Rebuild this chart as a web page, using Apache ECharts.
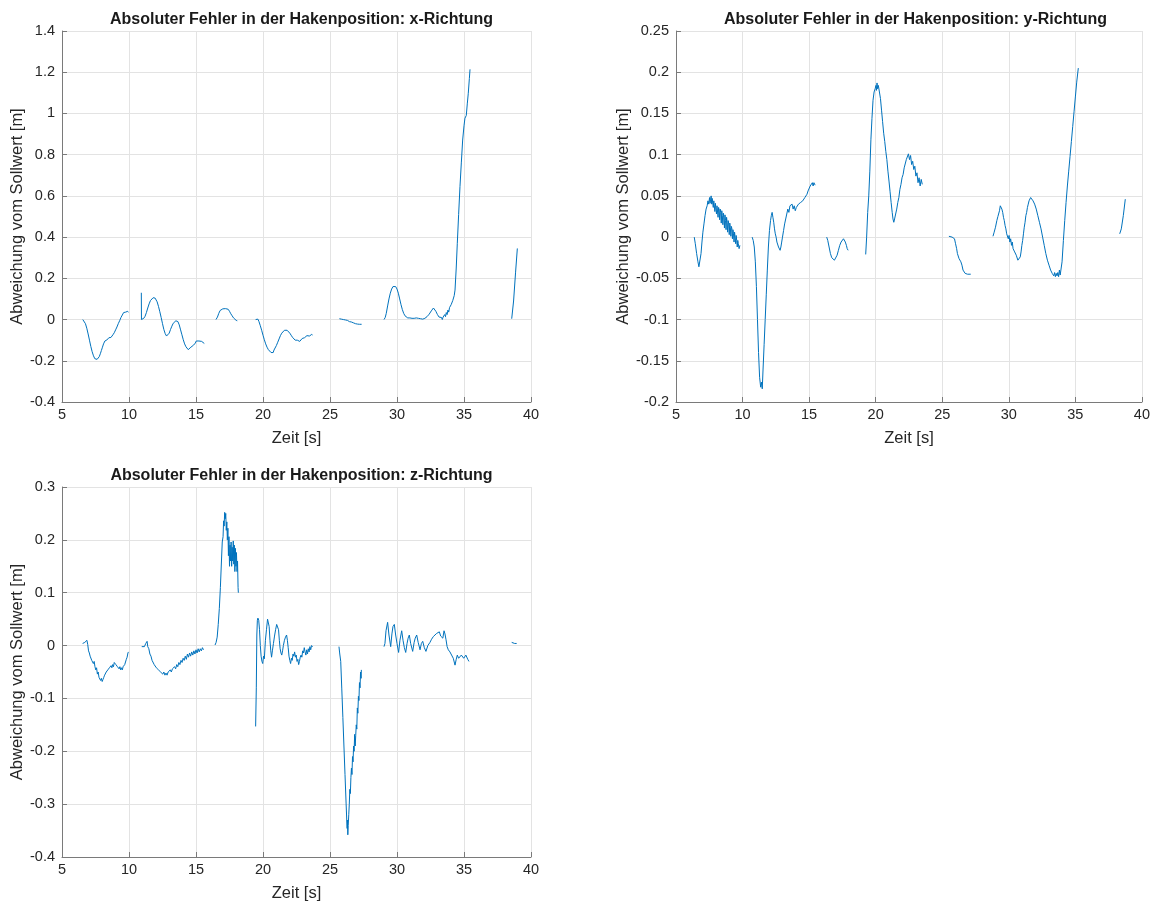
<!DOCTYPE html>
<html>
<head>
<meta charset="utf-8">
<script src="https://cdn.jsdelivr.net/npm/echarts@6/dist/echarts.min.js"></script>
<style>
  html, body { margin: 0; padding: 0; background: #fff; }
  #chart { width: 1153px; height: 904px; }
</style>
</head>
<body>
<div id="chart"></div>
<script>
// Hook position error, recorded in segments [time s, deviation m]
const titles = [
  'Absoluter Fehler in der Hakenposition: x-Richtung',
  'Absoluter Fehler in der Hakenposition: y-Richtung',
  'Absoluter Fehler in der Hakenposition: z-Richtung'
];
const xAxisName = 'Zeit [s]';
const yAxisName = 'Abweichung vom Sollwert [m]';

// axis ranges: [min, max, step]
const timeRange = [5, 40, 5];
const rangeX = [-0.4, 1.4, 0.2];
const rangeY = [-0.2, 0.25, 0.05];
const rangeZ = [-0.4, 0.3, 0.1];

const errX = [
  [[6.55,0.000],[6.65,-0.004],[6.75,-0.020],[6.85,-0.042],[6.95,-0.070],[7.05,-0.100],[7.15,-0.130],[7.25,-0.156],[7.35,-0.176],[7.45,-0.190],[7.55,-0.198],[7.62,-0.193],[7.70,-0.190],[7.78,-0.180],[7.86,-0.166],[7.94,-0.150],[8.02,-0.134],[8.10,-0.118],[8.15,-0.112],[8.20,-0.104],[8.25,-0.100],[8.30,-0.096],[8.35,-0.099],[8.40,-0.092],[8.45,-0.094],[8.50,-0.088],[8.55,-0.091],[8.60,-0.085],[8.65,-0.087],[8.70,-0.080],[8.75,-0.082],[8.80,-0.074],[8.85,-0.072],[8.90,-0.064],[8.95,-0.060],[9.00,-0.050],[9.05,-0.047],[9.10,-0.036],[9.15,-0.032],[9.20,-0.020],[9.25,-0.018],[9.30,-0.006],[9.35,-0.002],[9.40,0.010],[9.45,0.012],[9.50,0.022],[9.55,0.024],[9.60,0.034],[9.65,0.032],[9.70,0.041],[9.75,0.036],[9.80,0.043],[9.85,0.038],[9.90,0.040],[9.95,0.035]],
  [[10.92,0.130],[10.93,0.000],[11.00,0.002],[11.10,0.006],[11.20,0.016],[11.30,0.034],[11.40,0.056],[11.50,0.076],[11.60,0.092],[11.70,0.100],[11.80,0.106],[11.90,0.108],[11.95,0.104],[12.00,0.100],[12.10,0.086],[12.20,0.064],[12.30,0.038],[12.40,0.010],[12.50,-0.020],[12.60,-0.048],[12.70,-0.068],[12.80,-0.080],[12.90,-0.078],[13.00,-0.066],[13.10,-0.048],[13.20,-0.032],[13.30,-0.018],[13.40,-0.010],[13.50,-0.006],[13.58,-0.004],[13.65,-0.010],[13.75,-0.026],[13.85,-0.050],[13.95,-0.074],[14.05,-0.098],[14.15,-0.118],[14.25,-0.132],[14.35,-0.140],[14.42,-0.146],[14.48,-0.140],[14.55,-0.146],[14.62,-0.134],[14.68,-0.138],[14.75,-0.126],[14.82,-0.124],[14.88,-0.116],[14.95,-0.114],[15.02,-0.104],[15.08,-0.108],[15.15,-0.100],[15.22,-0.104],[15.28,-0.100],[15.35,-0.108],[15.42,-0.106],[15.48,-0.114],[15.55,-0.110],[15.62,-0.116]],
  [[16.49,0.000],[16.60,0.012],[16.70,0.030],[16.80,0.044],[16.90,0.051],[17.00,0.052],[17.10,0.052],[17.20,0.053],[17.30,0.052],[17.40,0.050],[17.50,0.040],[17.60,0.028],[17.70,0.018],[17.80,0.008],[17.90,0.002],[18.00,-0.004],[18.08,-0.006]],
  [[19.45,0.000],[19.50,0.004],[19.55,0.006],[19.62,0.002],[19.70,-0.010],[19.80,-0.030],[19.90,-0.052],[20.00,-0.076],[20.10,-0.098],[20.20,-0.118],[20.30,-0.134],[20.40,-0.146],[20.50,-0.154],[20.60,-0.160],[20.70,-0.156],[20.76,-0.160],[20.82,-0.148],[20.90,-0.142],[21.00,-0.126],[21.10,-0.110],[21.20,-0.094],[21.30,-0.078],[21.40,-0.066],[21.50,-0.058],[21.60,-0.052],[21.70,-0.050],[21.80,-0.052],[21.90,-0.058],[22.00,-0.066],[22.10,-0.076],[22.20,-0.086],[22.30,-0.094],[22.40,-0.100],[22.50,-0.104],[22.56,-0.100],[22.62,-0.108],[22.68,-0.102],[22.74,-0.106],[22.80,-0.098],[22.86,-0.100],[22.92,-0.092],[22.98,-0.094],[23.04,-0.086],[23.10,-0.088],[23.16,-0.080],[23.22,-0.084],[23.28,-0.078],[23.34,-0.082],[23.40,-0.074],[23.46,-0.080],[23.52,-0.074],[23.58,-0.078],[23.64,-0.072],[23.70,-0.075]],
  [[25.70,0.004],[25.85,0.002],[26.00,0.000],[26.15,-0.002],[26.30,-0.004],[26.45,-0.010],[26.60,-0.012],[26.75,-0.016],[26.90,-0.020],[27.05,-0.022],[27.20,-0.023],[27.36,-0.023]],
  [[29.03,0.000],[29.12,0.010],[29.20,0.030],[29.30,0.066],[29.40,0.100],[29.50,0.128],[29.60,0.148],[29.70,0.160],[29.80,0.164],[29.90,0.160],[30.00,0.148],[30.10,0.128],[30.20,0.100],[30.30,0.072],[30.40,0.048],[30.50,0.030],[30.60,0.018],[30.70,0.012],[30.80,0.008],[30.88,0.004],[30.96,0.008],[31.04,0.002],[31.12,0.006],[31.20,0.000],[31.28,0.006],[31.36,0.002],[31.44,0.008],[31.52,0.002],[31.60,0.006],[31.68,-0.002],[31.76,0.004],[31.84,-0.004],[31.92,0.002],[32.00,-0.002],[32.08,0.006],[32.16,0.006],[32.24,0.014],[32.32,0.016],[32.40,0.026],[32.48,0.030],[32.56,0.042],[32.64,0.046],[32.72,0.056],[32.78,0.050],[32.84,0.054],[32.90,0.040],[32.96,0.038],[33.02,0.024],[33.08,0.022],[33.14,0.012],[33.20,0.014],[33.26,0.004],[33.32,0.010],[33.38,0.000],[33.44,0.012],[33.50,0.006],[33.56,0.024],[33.62,0.014],[33.68,0.034],[33.74,0.024],[33.80,0.046],[33.86,0.036],[33.92,0.058],[33.98,0.050],[34.04,0.072],[34.10,0.066],[34.16,0.092],[34.22,0.098],[34.27,0.116],[34.33,0.143],[34.42,0.250],[34.50,0.370],[34.60,0.510],[34.70,0.645],[34.80,0.760],[34.90,0.871],[35.00,0.940],[35.07,0.977],[35.17,0.990],[35.25,1.050],[35.32,1.098],[35.40,1.170],[35.45,1.214]],
  [[38.56,0.004],[38.70,0.090],[38.85,0.230],[38.98,0.345]]
];

const errY = [
  [[6.37,0.000],[6.45,-0.008],[6.55,-0.020],[6.65,-0.030],[6.72,-0.036],[6.78,-0.038],[6.82,-0.034],[6.88,-0.020],[6.95,-0.006],[7.02,0.006],[7.10,0.016],[7.18,0.026],[7.26,0.034],[7.34,0.038],[7.40,0.044],[7.46,0.040],[7.52,0.048],[7.56,0.041],[7.60,0.046],[7.64,0.050],[7.68,0.040],[7.72,0.047],[7.76,0.049],[7.80,0.036],[7.84,0.044],[7.88,0.045],[7.92,0.031],[7.96,0.041],[8.00,0.042],[8.04,0.028],[8.08,0.038],[8.12,0.040],[8.16,0.024],[8.20,0.036],[8.24,0.033],[8.28,0.021],[8.32,0.034],[8.36,0.030],[8.40,0.017],[8.44,0.032],[8.48,0.026],[8.52,0.015],[8.56,0.029],[8.60,0.024],[8.64,0.011],[8.68,0.027],[8.72,0.020],[8.76,0.009],[8.80,0.024],[8.84,0.018],[8.88,0.006],[8.92,0.020],[8.96,0.016],[9.00,0.003],[9.04,0.017],[9.08,0.012],[9.12,0.001],[9.16,0.013],[9.20,0.010],[9.24,-0.002],[9.28,0.009],[9.32,0.004],[9.36,-0.006],[9.40,0.006],[9.44,0.000],[9.48,-0.008],[9.52,0.002],[9.56,-0.004],[9.60,-0.012],[9.64,-0.004],[9.68,-0.008],[9.74,-0.014],[9.80,-0.010]],
  [[10.72,0.000],[10.80,-0.004],[10.88,-0.012],[10.96,-0.030],[11.04,-0.060],[11.12,-0.100],[11.20,-0.140],[11.28,-0.170],[11.36,-0.182],[11.42,-0.176],[11.48,-0.184],[11.54,-0.160],[11.62,-0.130],[11.70,-0.100],[11.78,-0.070],[11.86,-0.040],[11.94,-0.012],[12.02,0.008],[12.10,0.020],[12.16,0.026],[12.22,0.030],[12.28,0.024],[12.34,0.018],[12.40,0.010],[12.46,0.004],[12.52,0.000],[12.58,-0.006],[12.64,-0.008],[12.70,-0.012],[12.76,-0.010],[12.82,-0.016],[12.88,-0.012],[12.94,-0.006],[13.00,0.000],[13.08,0.008],[13.16,0.016],[13.24,0.022],[13.32,0.028],[13.40,0.034],[13.48,0.030],[13.56,0.038],[13.64,0.036],[13.72,0.040],[13.80,0.034],[13.88,0.038],[13.96,0.032],[14.04,0.036],[14.12,0.034],[14.20,0.040],[14.28,0.038],[14.36,0.042],[14.44,0.040],[14.52,0.044],[14.60,0.046],[14.68,0.048],[14.76,0.050],[14.84,0.052],[14.92,0.056],[15.00,0.058],[15.08,0.062],[15.16,0.064],[15.24,0.066],[15.30,0.062],[15.36,0.066],[15.45,0.063]],
  [[16.32,0.000],[16.40,-0.004],[16.50,-0.012],[16.60,-0.020],[16.70,-0.025],[16.80,-0.027],[16.90,-0.028],[17.00,-0.026],[17.10,-0.022],[17.20,-0.016],[17.30,-0.010],[17.40,-0.006],[17.50,-0.004],[17.58,-0.002],[17.66,0.000],[17.72,-0.006],[17.80,-0.010],[17.86,-0.014],[17.93,-0.016]],
  [[19.25,-0.021],[19.32,0.000],[19.40,0.030],[19.48,0.050],[19.56,0.080],[19.64,0.118],[19.72,0.144],[19.80,0.166],[19.88,0.176],[19.96,0.180],[20.02,0.184],[20.06,0.178],[20.10,0.187],[20.14,0.180],[20.20,0.184],[20.28,0.176],[20.36,0.168],[20.44,0.154],[20.52,0.140],[20.60,0.126],[20.68,0.116],[20.76,0.104],[20.84,0.094],[20.92,0.080],[21.00,0.068],[21.08,0.055],[21.16,0.042],[21.24,0.030],[21.30,0.022],[21.36,0.018],[21.42,0.022],[21.50,0.028],[21.58,0.034],[21.66,0.042],[21.74,0.048],[21.82,0.058],[21.90,0.064],[21.98,0.072],[22.06,0.076],[22.14,0.084],[22.22,0.086],[22.30,0.094],[22.38,0.092],[22.46,0.101],[22.54,0.094],[22.62,0.099],[22.70,0.088],[22.78,0.092],[22.86,0.082],[22.94,0.086],[23.02,0.074],[23.10,0.078],[23.18,0.066],[23.26,0.072],[23.34,0.062],[23.42,0.070],[23.50,0.064]],
  [[25.50,0.001],[25.62,0.001],[25.74,0.000],[25.86,0.001],[25.92,-0.002],[26.00,-0.008],[26.08,-0.014],[26.14,-0.020],[26.20,-0.018],[26.26,-0.026],[26.32,-0.024],[26.40,-0.030],[26.48,-0.034],[26.56,-0.040],[26.64,-0.042],[26.72,-0.044],[26.80,-0.043],[26.90,-0.045],[27.00,-0.044],[27.14,-0.045]],
  [[28.81,0.001],[28.90,0.006],[29.00,0.012],[29.10,0.020],[29.18,0.025],[29.30,0.032],[29.36,0.038],[29.42,0.040],[29.48,0.034],[29.54,0.030],[29.60,0.024],[29.66,0.020],[29.72,0.014],[29.78,0.010],[29.84,0.004],[29.90,0.006],[29.96,-0.002],[30.02,0.002],[30.08,-0.006],[30.14,-0.002],[30.20,-0.010],[30.26,-0.006],[30.32,-0.014],[30.38,-0.012],[30.44,-0.018],[30.50,-0.016],[30.56,-0.022],[30.62,-0.024],[30.68,-0.028],[30.74,-0.030],[30.80,-0.028],[30.86,-0.024],[30.92,-0.018],[30.98,-0.010],[31.04,-0.004],[31.10,0.004],[31.16,0.012],[31.22,0.018],[31.28,0.026],[31.34,0.030],[31.40,0.036],[31.46,0.040],[31.52,0.044],[31.58,0.046],[31.64,0.048],[31.70,0.046],[31.76,0.048],[31.82,0.044],[31.88,0.046],[31.94,0.040],[32.00,0.042],[32.06,0.034],[32.12,0.036],[32.18,0.026],[32.24,0.028],[32.30,0.018],[32.36,0.020],[32.42,0.010],[32.48,0.010],[32.54,0.000],[32.60,0.000],[32.66,-0.010],[32.72,-0.010],[32.78,-0.020],[32.84,-0.018],[32.90,-0.028],[32.96,-0.026],[33.02,-0.034],[33.08,-0.032],[33.14,-0.040],[33.20,-0.038],[33.26,-0.044],[33.32,-0.042],[33.38,-0.047],[33.44,-0.043],[33.50,-0.048],[33.56,-0.044],[33.62,-0.047],[33.68,-0.043],[33.74,-0.048],[33.80,-0.040],[33.86,-0.046],[33.92,-0.044],[34.00,-0.030],[34.10,-0.004],[34.20,0.020],[34.30,0.042],[34.40,0.062],[34.50,0.080],[34.60,0.098],[34.70,0.116],[34.80,0.134],[34.90,0.152],[35.00,0.170],[35.10,0.188],[35.22,0.205]],
  [[38.33,0.004],[38.45,0.010],[38.60,0.026],[38.75,0.046]]
];

const errZ = [
  [[6.54,0.004],[6.62,0.002],[6.70,0.006],[6.78,0.004],[6.86,0.010],[6.92,0.002],[6.98,-0.010],[7.04,-0.014],[7.10,-0.020],[7.16,-0.018],[7.22,-0.028],[7.28,-0.026],[7.34,-0.034],[7.40,-0.030],[7.46,-0.040],[7.52,-0.046],[7.58,-0.042],[7.64,-0.054],[7.70,-0.050],[7.76,-0.060],[7.82,-0.058],[7.88,-0.066],[7.94,-0.062],[8.00,-0.068],[8.06,-0.064],[8.12,-0.060],[8.18,-0.056],[8.24,-0.058],[8.30,-0.050],[8.36,-0.052],[8.42,-0.046],[8.48,-0.048],[8.54,-0.042],[8.60,-0.044],[8.66,-0.038],[8.72,-0.042],[8.78,-0.036],[8.84,-0.040],[8.90,-0.032],[8.96,-0.030],[9.02,-0.036],[9.08,-0.034],[9.14,-0.040],[9.20,-0.038],[9.26,-0.044],[9.32,-0.040],[9.38,-0.046],[9.44,-0.042],[9.50,-0.046],[9.56,-0.040],[9.62,-0.042],[9.68,-0.036],[9.74,-0.034],[9.80,-0.026],[9.86,-0.022],[9.92,-0.014],[9.96,-0.012]],
  [[10.95,-0.002],[11.05,0.000],[11.15,-0.002],[11.25,0.004],[11.35,0.008],[11.40,-0.002],[11.48,-0.006],[11.56,-0.016],[11.64,-0.020],[11.72,-0.028],[11.80,-0.030],[11.88,-0.036],[11.96,-0.034],[12.04,-0.042],[12.12,-0.040],[12.20,-0.046],[12.28,-0.044],[12.36,-0.050],[12.44,-0.048],[12.52,-0.054],[12.60,-0.050],[12.68,-0.056],[12.76,-0.052],[12.84,-0.056],[12.92,-0.050],[13.00,-0.052],[13.08,-0.046],[13.16,-0.050],[13.24,-0.044],[13.32,-0.046],[13.40,-0.040],[13.48,-0.044],[13.56,-0.036],[13.64,-0.040],[13.72,-0.032],[13.80,-0.036],[13.88,-0.028],[13.96,-0.032],[14.04,-0.024],[14.12,-0.028],[14.20,-0.020],[14.28,-0.026],[14.36,-0.016],[14.44,-0.022],[14.52,-0.014],[14.60,-0.020],[14.68,-0.012],[14.76,-0.018],[14.84,-0.010],[14.92,-0.016],[15.00,-0.008],[15.08,-0.014],[15.16,-0.006],[15.24,-0.012],[15.32,-0.006],[15.40,-0.010],[15.48,-0.004],[15.56,-0.008]],
  [[16.42,0.001],[16.50,0.006],[16.58,0.016],[16.66,0.040],[16.74,0.070],[16.82,0.110],[16.90,0.160],[16.96,0.196],[17.02,0.206],[17.06,0.236],[17.10,0.226],[17.14,0.252],[17.18,0.240],[17.22,0.250],[17.26,0.218],[17.30,0.234],[17.34,0.200],[17.38,0.222],[17.42,0.170],[17.46,0.206],[17.50,0.150],[17.54,0.190],[17.58,0.160],[17.62,0.196],[17.66,0.150],[17.70,0.186],[17.74,0.160],[17.78,0.198],[17.82,0.154],[17.86,0.190],[17.90,0.140],[17.94,0.184],[17.98,0.150],[18.02,0.176],[18.06,0.140],[18.10,0.160],[18.14,0.110],[18.16,0.100]],
  [[19.45,-0.153],[19.50,-0.080],[19.54,0.020],[19.58,0.048],[19.62,0.052],[19.68,0.048],[19.74,0.030],[19.80,0.000],[19.86,-0.020],[19.92,-0.030],[19.98,-0.034],[20.04,-0.020],[20.10,-0.025],[20.18,0.010],[20.26,0.030],[20.34,0.050],[20.40,0.052],[20.46,0.036],[20.52,0.010],[20.58,-0.010],[20.64,-0.022],[20.70,-0.010],[20.78,0.004],[20.86,0.018],[20.94,0.030],[21.02,0.040],[21.10,0.042],[21.16,0.030],[21.22,0.010],[21.28,-0.006],[21.34,-0.014],[21.40,-0.018],[21.46,-0.010],[21.52,0.000],[21.60,0.010],[21.68,0.016],[21.76,0.020],[21.82,0.010],[21.88,-0.004],[21.94,-0.020],[22.00,-0.028],[22.06,-0.034],[22.12,-0.024],[22.18,-0.028],[22.24,-0.016],[22.30,-0.020],[22.36,-0.012],[22.42,-0.022],[22.48,-0.018],[22.54,-0.030],[22.60,-0.026],[22.66,-0.036],[22.72,-0.030],[22.78,-0.022],[22.84,-0.018],[22.90,-0.022],[22.96,-0.010],[23.02,-0.014],[23.08,-0.004],[23.14,-0.012],[23.20,-0.018],[23.26,-0.008],[23.32,-0.016],[23.38,-0.006],[23.44,-0.012],[23.50,-0.002],[23.56,-0.008],[23.62,0.000],[23.71,-0.002]],
  [[25.67,-0.002],[25.72,-0.014],[25.80,-0.030],[25.88,-0.082],[25.96,-0.136],[26.04,-0.190],[26.12,-0.244],[26.20,-0.298],[26.25,-0.330],[26.28,-0.346],[26.30,-0.330],[26.33,-0.358],[26.36,-0.340],[26.40,-0.320],[26.44,-0.300],[26.48,-0.272],[26.52,-0.280],[26.56,-0.250],[26.60,-0.232],[26.64,-0.244],[26.68,-0.210],[26.72,-0.220],[26.76,-0.190],[26.80,-0.200],[26.84,-0.168],[26.88,-0.190],[26.92,-0.170],[26.96,-0.150],[27.00,-0.158],[27.04,-0.118],[27.08,-0.128],[27.12,-0.096],[27.16,-0.104],[27.20,-0.070],[27.24,-0.080],[27.28,-0.050],[27.32,-0.062],[27.34,-0.046]],
  [[29.03,-0.002],[29.10,0.004],[29.18,0.028],[29.30,0.044],[29.40,0.020],[29.53,-0.002],[29.62,0.022],[29.70,0.036],[29.80,0.040],[29.90,0.020],[30.00,0.004],[30.12,-0.013],[30.22,0.010],[30.35,0.028],[30.45,0.010],[30.55,-0.004],[30.65,-0.013],[30.75,0.004],[30.83,0.014],[30.92,0.020],[31.02,0.004],[31.17,-0.011],[31.28,0.006],[31.36,0.014],[31.47,0.020],[31.58,0.006],[31.72,-0.008],[31.82,0.004],[31.92,0.008],[32.04,-0.004],[32.16,-0.011],[32.30,0.000],[32.46,0.006],[32.58,0.012],[32.71,0.017],[32.80,0.014],[32.96,0.023],[33.06,0.020],[33.16,0.026],[33.26,0.018],[33.33,0.020],[33.42,0.014],[33.51,0.028],[33.58,0.022],[33.66,0.011],[33.74,-0.002],[33.83,-0.008],[33.95,-0.012],[34.08,-0.015],[34.20,-0.024],[34.33,-0.037],[34.42,-0.026],[34.50,-0.018],[34.60,-0.024],[34.70,-0.021],[34.80,-0.018],[34.90,-0.015],[34.98,-0.024],[35.07,-0.024],[35.14,-0.018],[35.20,-0.018],[35.28,-0.026],[35.37,-0.030]],
  [[38.56,0.006],[38.62,0.003],[38.70,0.006],[38.78,0.004],[38.86,0.006],[38.93,0.004]]
];

// join recorded segments, leaving an empty point between them so the line breaks
function joinSegments(segs) {
  const out = [];
  segs.forEach((seg, i) => {
    if (i > 0) out.push([seg[0][0], '-']);
    seg.forEach(p => out.push(p));
  });
  return out;
}

const FONT = '"Liberation Sans", Arial, Helvetica, sans-serif';
const TEXT = '#262626';
const AXIS = '#7a7a7a';
const GRIDLINE = '#e3e3e3';
const LINE = '#0072BD';

const panels = [
  { left: 62,  top: 31,  width: 469, height: 371, range: rangeX, segs: errX, yGap: 33 },
  { left: 676, top: 31,  width: 469, height: 371, range: rangeY, segs: errY, yGap: 43 },
  { left: 62,  top: 487, width: 469, height: 370, range: rangeZ, segs: errZ, yGap: 33 }
];

function decimals(step) {
  const s = String(step);
  return s.indexOf('.') < 0 ? 0 : s.length - s.indexOf('.') - 1;
}

const option = {
  animation: false,
  backgroundColor: '#ffffff',
  title: panels.map((p, i) => ({
    text: titles[i],
    left: p.left + p.width / 2,
    top: p.top - 24,
    textAlign: 'center',
    textStyle: { fontFamily: FONT, fontSize: 16, fontWeight: 'bold', color: '#1a1a1a' }
  })),
  grid: panels.map(p => ({ left: p.left, top: p.top, width: p.width, height: p.height, containLabel: false })),
  xAxis: panels.map((p, i) => ({
    type: 'value', gridIndex: i,
    min: timeRange[0], max: timeRange[1], interval: timeRange[2],
    name: xAxisName, nameLocation: 'middle', nameGap: 28,
    nameTextStyle: { fontFamily: FONT, fontSize: 16.5, color: TEXT },
    axisLine: { show: true, onZero: false, lineStyle: { color: AXIS, width: 1 } },
    axisTick: { show: true, inside: true, length: 5, lineStyle: { color: AXIS } },
    axisLabel: { fontFamily: FONT, fontSize: 14.5, color: TEXT, margin: 5 },
    splitLine: { show: true, lineStyle: { color: GRIDLINE, width: 1 } }
  })),
  yAxis: panels.map((p, i) => {
    const d = decimals(p.range[2]);
    return {
      type: 'value', gridIndex: i,
      min: p.range[0], max: p.range[1], interval: p.range[2],
      name: yAxisName, nameLocation: 'middle', nameGap: p.yGap,
      nameTextStyle: { fontFamily: FONT, fontSize: 16.5, color: TEXT },
      axisLine: { show: true, onZero: false, lineStyle: { color: AXIS, width: 1 } },
      axisTick: { show: true, inside: true, length: 5, lineStyle: { color: AXIS } },
      axisLabel: {
        fontFamily: FONT, fontSize: 14.5, color: TEXT, margin: 7,
        formatter: v => String(parseFloat(v.toFixed(d)))
      },
      splitLine: { show: true, lineStyle: { color: GRIDLINE, width: 1 } }
    };
  }),
  series: panels.map((p, i) => ({
    type: 'line', xAxisIndex: i, yAxisIndex: i,
    data: joinSegments(p.segs),
    showSymbol: false, symbol: 'none',
    connectNulls: false, sampling: null,
    lineStyle: { color: LINE, width: 1 },
    emphasis: { disabled: true }
  }))
};

echarts.init(document.getElementById('chart'), null, { renderer: 'canvas' }).setOption(option);
</script>
</body>
</html>
